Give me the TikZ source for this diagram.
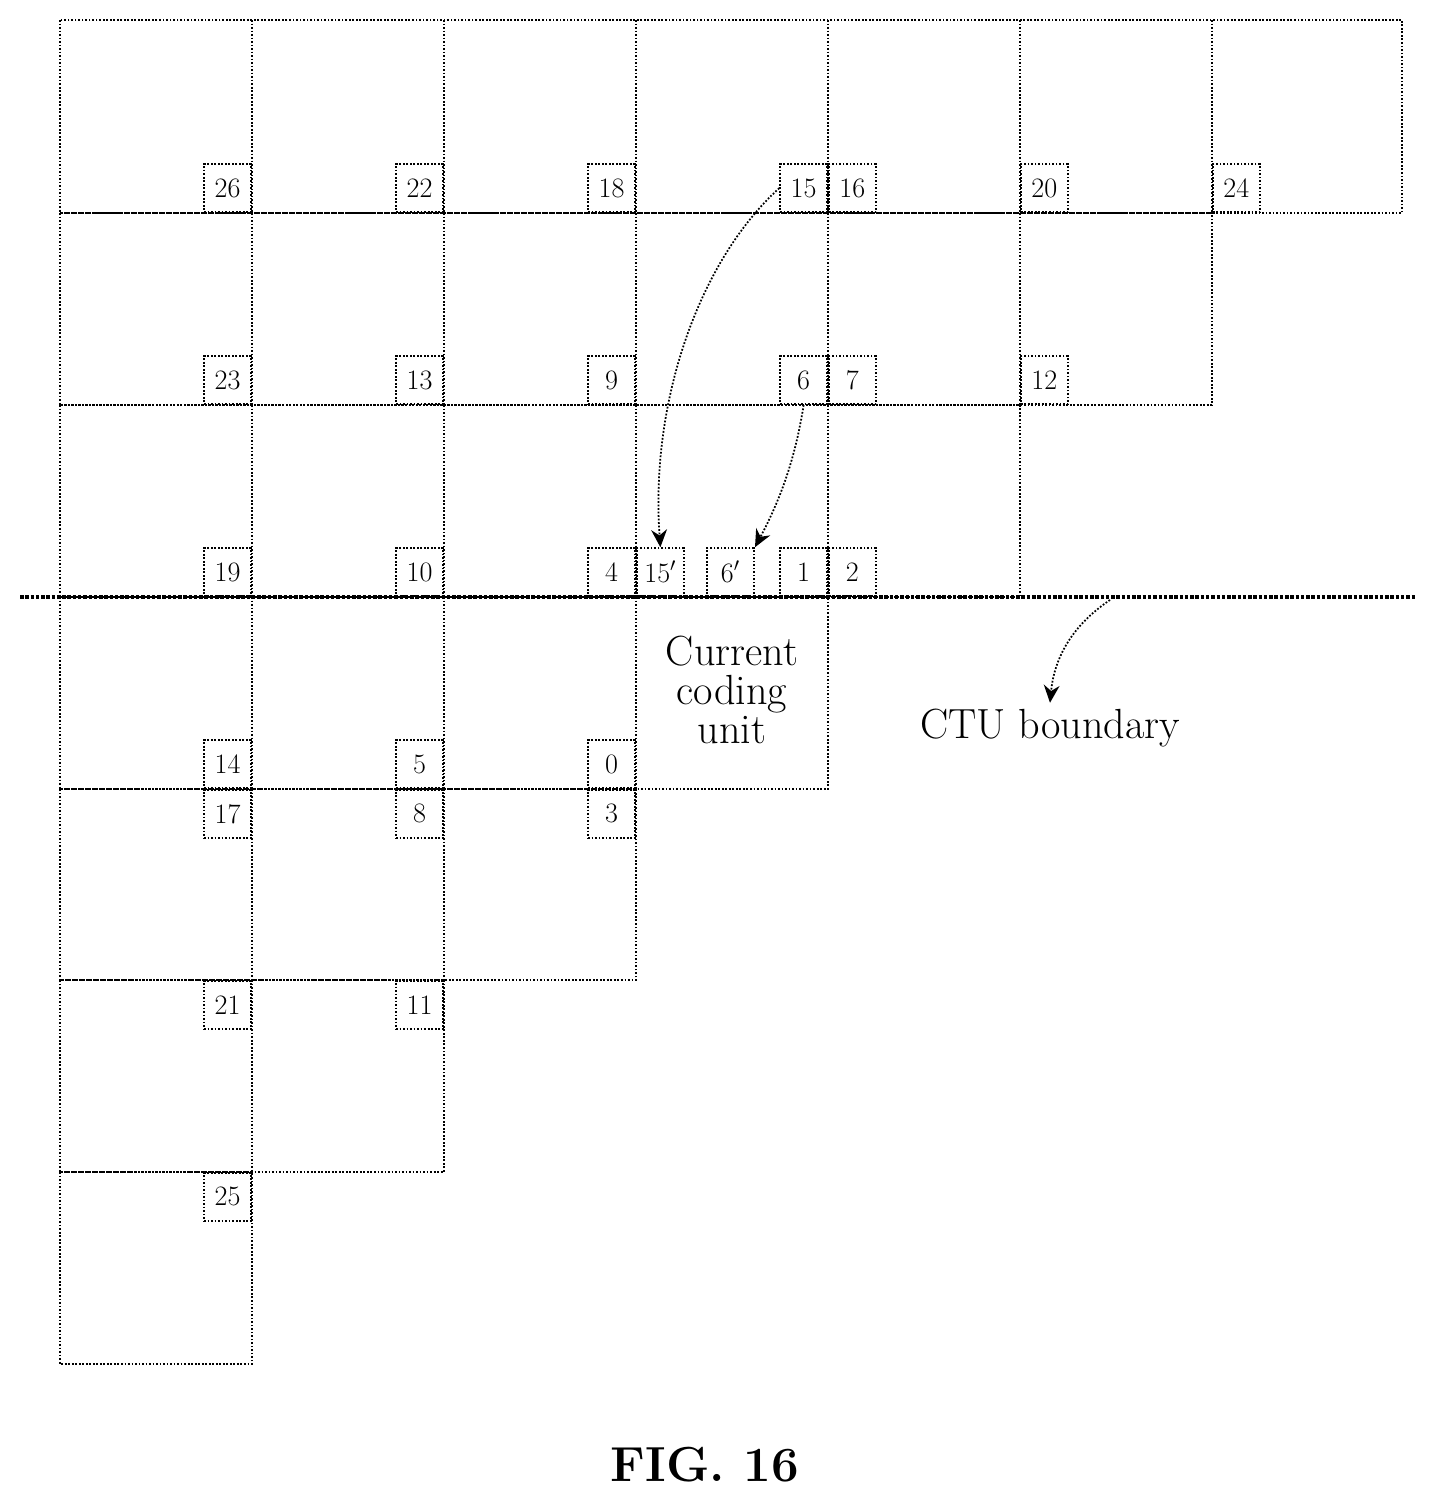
\documentclass[tikz,border=0pt]{standalone}
\usetikzlibrary{arrows.meta}
\begin{document}
\begin{tikzpicture}[x=0.02cm,y=-0.02cm,
 grid/.style={densely dotted,line width=1pt},
 lab/.style={draw,densely dotted,line width=1pt,minimum width=0.94cm,minimum height=0.96cm,inner sep=0pt,font=\fontsize{16}{18}\selectfont},
 arr/.style={densely dotted,line width=1pt,-{Stealth[length=10pt,width=9pt]}},
 txt/.style={font=\fontsize{24}{22}\selectfont,align=center}]
\useasboundingbox (0,0) rectangle (1436,1510);
% grid rows
\draw[grid] (60,20) rectangle (1402,213);
\foreach \x in {252,444,636,828,1020,1212} \draw[grid] (\x,20)--(\x,213);
\draw[grid] (60,213) rectangle (1212,405);
\foreach \x in {252,444,636,828,1020} \draw[grid] (\x,213)--(\x,405);
\draw[grid] (60,405) rectangle (1020,597);
\foreach \x in {252,444,636,828} \draw[grid] (\x,405)--(\x,597);
\draw[grid] (60,597) rectangle (828,789);
\foreach \x in {252,444,636} \draw[grid] (\x,597)--(\x,789);
\draw[grid] (60,789) rectangle (636,980);
\foreach \x in {252,444} \draw[grid] (\x,789)--(\x,980);
\draw[grid] (60,980) rectangle (444,1172);
\draw[grid] (252,980)--(252,1172);
\draw[grid] (60,1172) rectangle (252,1364);
% CTU boundary
\coordinate (cl) at (20,597); \coordinate (cr) at (1415,597);
\draw[densely dotted,line width=2pt] (cl)--(cr);
% labels
\foreach \x/\y/\t/\n in {252/213/26/a26,444/213/22/a22,636/213/18/a18,828/213/15/a15,
 252/405/23/a23,444/405/13/a13,636/405/9/a9,828/405/6/a6,
 252/597/19/a19,444/597/10/a10,636/597/4/a4,828/597/1/a1,
 252/789/14/a14,444/789/5/a5,636/789/0/a0}
 \node[lab,anchor=south east] (\n) at (\x,\y) {\t};
\foreach \x/\y/\t/\n in {828/213/16/a16,1020/213/20/a20,1212/213/24/a24,828/405/7/a7,1020/405/12/a12,828/597/2/a2,636/597/15$'$/b15}
 \node[lab,anchor=south west] (\n) at (\x,\y) {\t};
\node[lab,anchor=south west] (b6) at (706,597) {6$'$};
\foreach \x/\y/\t/\n in {252/789/17/a17,444/789/8/a8,636/789/3/a3,252/980/21/a21,444/980/11/a11,252/1172/25/a25}
 \node[lab,anchor=north east] (\n) at (\x,\y) {\t};
% texts
\node[txt] (cu) at (732,690) {Current\\coding\\unit};
\node[txt] (ctu) at (1050,728) {CTU boundary};
\coordinate (ctus) at (1110,600);
\node[font=\fontsize{28}{30}\selectfont\bfseries] (fig) at (705,1465) {FIG. 16};
% arrows
\draw[arr] (a15.west) .. controls (700,260) and (650,400) .. (b15.north);
\draw[arr] (a6.south) .. controls (795,460) and (780,500) .. ([xshift=14pt]b6.north);
\draw[arr] (ctus) .. controls (1080,620) and (1055,650) .. (ctu.north);
\end{tikzpicture}
\end{document}
